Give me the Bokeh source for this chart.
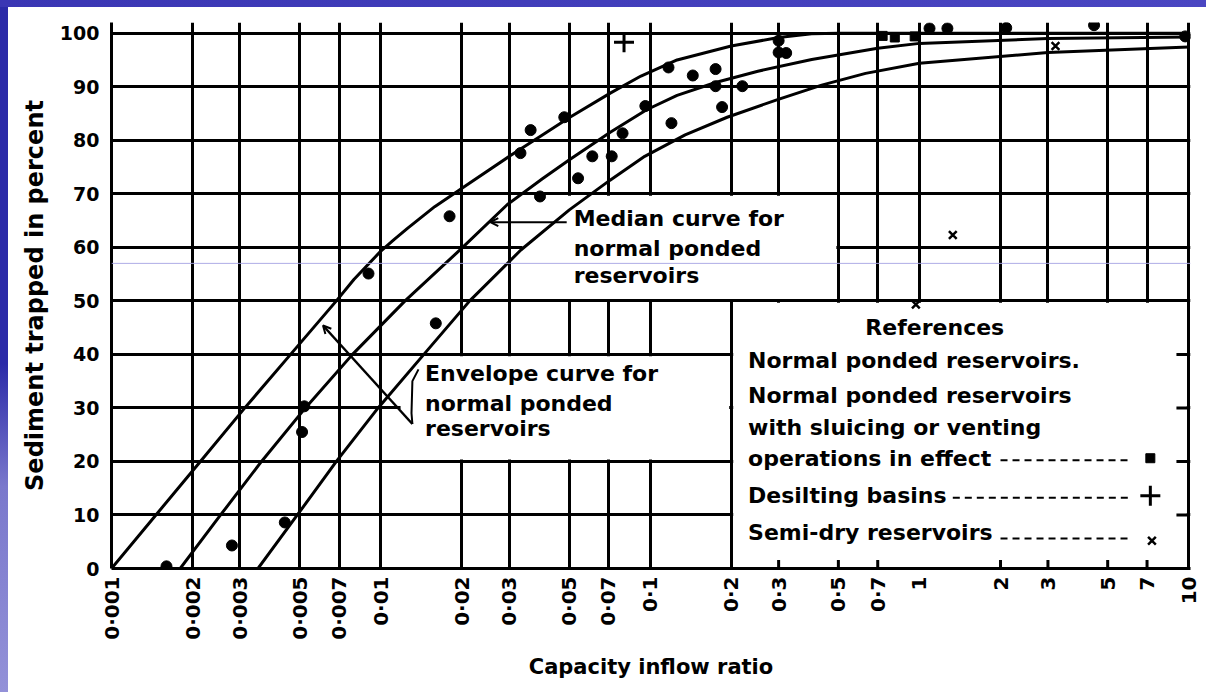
import math
from bokeh.plotting import figure
from bokeh.layouts import column, row
from bokeh.models import (Range1d, FixedTicker, Arrow, OpenHead, Span, Label,
                          Spacer)
from bokeh.embed import file_html
from bokeh.resources import INLINE

# ---------------- data ----------------
x_ticks = [0.001, 0.002, 0.003, 0.005, 0.007, 0.01, 0.02, 0.03, 0.05, 0.07,
           0.1, 0.2, 0.3, 0.5, 0.7, 1, 2, 3, 5, 7, 10]
x_tick_labels = ["0·001", "0·002", "0·003", "0·005", "0·007", "0·01", "0·02",
                 "0·03", "0·05", "0·07", "0·1", "0·2", "0·3", "0·5", "0·7",
                 "1", "2", "3", "5", "7", "10"]
y_ticks = [0, 10, 20, 30, 40, 50, 60, 70, 80, 90, 100]

# upper envelope curve
upper_x = [0.001, 0.001462, 0.002138, 0.003126, 0.004624, 0.006839, 0.007943,
           0.01, 0.01122, 0.01259, 0.01585, 0.01995, 0.03, 0.03981, 0.05,
           0.07112, 0.09247, 0.1259, 0.2, 0.3, 0.398, 0.501, 10]
upper_y = [0, 10, 20, 30, 40, 50, 54, 59.3, 61.5, 63.6, 67.6, 71, 77, 81,
           84.2, 88.8, 92, 95, 97.6, 99.2, 99.9, 100, 100]
# median curve
median_x = [0.001799, 0.002541, 0.003606, 0.005248, 0.007852, 0.0123, 0.01995,
            0.02951, 0.03981, 0.05, 0.07112, 0.09705, 0.1259, 0.175, 0.2512,
            0.3981, 0.6998, 1, 3, 10]
median_y = [0, 10, 20, 30, 40, 50, 59.8, 68, 72.8, 76.3, 81.5, 85.7, 88.4,
            90.8, 92.9, 95.1, 97.2, 98.1, 99.0, 99.3]
# lower envelope curve
lower_x = [0.003499, 0.004898, 0.006839, 0.009772, 0.01445, 0.02138, 0.03311,
           0.05012, 0.07079, 0.0955, 0.1349, 0.1932, 0.2972, 0.4335, 0.631,
           1, 3, 10]
lower_y = [0, 10, 20, 30, 40, 50, 59.5, 67, 72.5, 77, 81, 84.3, 87.6, 90.3,
           92.5, 94.4, 96.4, 97.4]

# normal ponded reservoirs (dots)
normal_x = [0.0016, 0.0028, 0.0044, 0.0051, 0.0052, 0.009, 0.016, 0.018, 0.033,
            0.036, 0.039, 0.048, 0.054, 0.061, 0.072, 0.079, 0.096, 0.117, 0.12,
            0.144, 0.175, 0.175, 0.185, 0.22, 0.30, 0.30, 0.32, 1.09, 1.27, 2.1,
            4.45, 9.7]
normal_y = [0.4, 4.3, 8.6, 25.5, 30.3, 55.1, 45.8, 65.8, 77.6, 81.9, 69.5, 84.3,
            72.9, 77.0, 77.0, 81.3, 86.4, 93.6, 83.2, 92.1, 93.3, 90.1, 86.2,
            90.1, 98.6, 96.4, 96.3, 100.9, 100.9, 101.0, 101.5, 99.4]
# reservoirs with sluicing or venting (squares)
sluice_x = [0.73, 0.81, 0.96]
sluice_y = [99.5, 99.2, 99.4]
# desilting basins (+)
desilt_x = [0.08]
desilt_y = [98.3]
# semi-dry reservoirs (x)
semidry_x = [0.97, 1.33, 3.2]
semidry_y = [49.3, 62.3, 97.6]

FONT = "DejaVu Sans"

p = figure(width=1198, height=685, x_axis_type="log",
           x_range=Range1d(0.001, 10.15), y_range=Range1d(0, 102),
           output_backend="svg", toolbar_location=None,
           min_border_left=103, min_border_right=16, min_border_top=15,
           min_border_bottom=124, background_fill_color="white",
           border_fill_color="white", outline_line_color=None)

# axes
p.xaxis.ticker = FixedTicker(ticks=x_ticks)
p.xaxis.major_label_overrides = dict(zip(x_ticks, x_tick_labels))
p.xaxis.major_label_orientation = math.pi / 2
p.yaxis.ticker = FixedTicker(ticks=y_ticks)
for ax in (p.xaxis, p.yaxis):
    ax.major_tick_out = 0
    ax.major_tick_in = 0
    ax.minor_tick_out = 0
    ax.minor_tick_in = 0
    ax.axis_line_width = 3
    ax.axis_line_color = "black"
    ax.major_label_text_font = FONT
    ax.major_label_text_font_style = "bold"
    ax.major_label_text_color = "black"
    ax.axis_label_text_font = FONT
    ax.axis_label_text_font_style = "bold"
    ax.axis_label_text_color = "black"
p.xaxis.major_label_text_font_size = "20px"
p.yaxis.major_label_text_font_size = "19px"
p.xaxis.major_label_standoff = 8
p.yaxis.major_label_standoff = 12
p.xaxis.axis_label = "Capacity inflow ratio"
p.yaxis.axis_label = "Sediment trapped in percent"
p.xaxis.axis_label_text_font_size = "21px"
p.yaxis.axis_label_text_font_size = "24px"
p.xaxis.axis_label_standoff = 12
p.yaxis.axis_label_standoff = 8

# grid
p.xgrid.ticker = FixedTicker(ticks=x_ticks)
p.ygrid.ticker = FixedTicker(ticks=y_ticks)
for g in (p.xgrid, p.ygrid):
    g.grid_line_color = "black"
    g.grid_line_width = 3
    g.grid_line_alpha = 1

# white panels that interrupt the grid (text boxes and legend box)
p.quad(left=[0.0336, 0.01184, 0.2035], right=[0.4915, 0.1966, 9.83],
       bottom=[50.35, 20.35, 0.0], top=[69.65, 39.65, 49.65],
       fill_color="white", line_color=None)

# grid stubs at the edge of the legend box
stub_x = [0.3, 0.5, 0.7, 2, 3, 5, 7]
p.segment(x0=stub_x, y0=[0] * 7, x1=stub_x, y1=[1.6] * 7,
          line_color="black", line_width=3)
stub_y = [10, 20, 30, 40]
p.segment(x0=[9.0] * 4, y0=stub_y, x1=[10] * 4, y1=stub_y,
          line_color="black", line_width=3)

# curves
for cx, cy in ((upper_x, upper_y), (median_x, median_y), (lower_x, lower_y)):
    p.line(cx, cy, line_color="black", line_width=3, line_join="round")

# points
p.scatter(normal_x, normal_y, marker="circle", size=11, color="black")
p.scatter(sluice_x, sluice_y, marker="square", size=9, color="black")
p.scatter(desilt_x, desilt_y, marker="cross", size=20, line_color="black",
          line_width=3)
p.scatter(semidry_x, semidry_y, marker="x", size=11, line_color="black",
          line_width=2.5)

# leader lines
p.add_layout(Arrow(end=OpenHead(size=8, line_width=2, line_color="black"),
                   x_start=0.049, y_start=64.7, x_end=0.0255, y_end=64.7,
                   line_width=2, line_color="black"))
p.add_layout(Arrow(end=OpenHead(size=8, line_width=2, line_color="black"),
                   x_start=0.0131, y_start=27.0, x_end=0.0061, y_end=45.4,
                   line_width=2.5, line_color="black"))
p.line([0.0138, 0.0131, 0.0130, 0.0131], [37.2, 35.0, 29.0, 27.0],
       line_color="black", line_width=2)


def lab(x, y, text, align="left", size="22px"):
    p.add_layout(Label(x=x, y=y, text=text, text_font=FONT,
                       text_font_style="bold", text_font_size=size,
                       text_color="black", text_align=align,
                       text_baseline="middle"))


lab(0.052, 65.4, "Median curve for")
lab(0.052, 59.8, "normal ponded")
lab(0.052, 54.8, "reservoirs")

lab(0.0146, 36.4, "Envelope curve for")
lab(0.0146, 30.8, "normal ponded")
lab(0.0146, 26.2, "reservoirs")

lab(1.14, 45.0, "References", align="center")
lab(0.231, 38.9, "Normal ponded reservoirs.")
lab(0.231, 32.3, "Normal ponded reservoirs")
lab(0.231, 26.4, "with sluicing or venting")
lab(0.231, 20.6, "operations in effect")
lab(0.231, 13.6, "Desilting basins")
lab(0.231, 6.7, "Semi-dry reservoirs")

# dashed leaders in the legend
p.segment(x0=[2.0, 1.33, 2.0], y0=[20.2, 13.2, 5.6],
          x1=[6.1, 6.1, 6.1], y1=[20.2, 13.2, 5.6],
          line_color="black", line_width=2, line_dash="7 5")
p.scatter([7.2], [20.6], marker="square", size=9, color="black")
p.scatter([7.2], [13.6], marker="cross", size=20, line_color="black",
          line_width=3)
p.scatter([7.3], [5.2], marker="x", size=11, line_color="black", line_width=2.5)

# faint slide artifact line
p.add_layout(Span(location=57.0, dimension="width", line_color="#a6a3e3",
                  line_width=1, line_alpha=0.9))

# blue slide frame strips (top and left)
top_strip = Spacer(width=1206, height=7,
                   styles={"background": "linear-gradient(90deg, #3a36b4, #4a46c2)"})
left_strip = Spacer(width=8, height=685,
                    styles={"background": "linear-gradient(180deg, #2b2aa8 0%, #2b2aa8 52%, #7a78cc 70%, #9391d8 100%)"})
layout = column(top_strip, row(left_strip, p, spacing=0), spacing=0)

open("out.html", "w").write(file_html(layout, INLINE, title="Sediment trap efficiency"))
